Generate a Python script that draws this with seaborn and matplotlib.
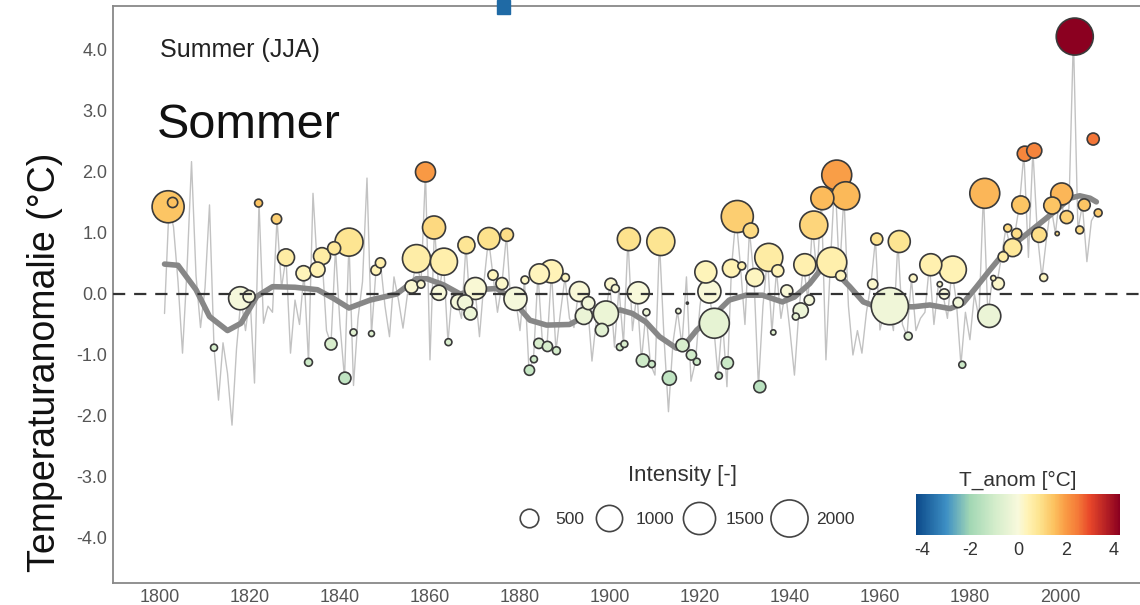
import numpy as np
import pandas as pd
import matplotlib
matplotlib.use("Agg")
import matplotlib.pyplot as plt
import seaborn as sns
from matplotlib.colors import LinearSegmentedColormap, Normalize
from matplotlib.cm import ScalarMappable
from matplotlib.lines import Line2D
from matplotlib.patches import Rectangle

# ---------------- data ----------------
line_years = list(range(1801, 2009))
line_anom = [
    -0.32, 1.43, 1.10, 0.20, -0.97, 0.40, 2.17, 0.30, -0.55, 0.10,   # 1801-1810
    1.46, -0.88, -1.74, -0.80, -1.30, -2.15, -0.90, -0.07, -0.60, -0.04,  # 1811-1820
    -1.46, 1.49, -0.48, -0.20, -0.30, 1.23, 0.10, 0.60, -0.97, -0.10,  # 1821-1830
    -0.50, 0.34, -1.12, 1.65, 0.40, 0.62, -0.60, -0.82, 0.75, -0.50,  # 1831-1840
    -1.38, 0.85, -1.50, -0.40, 0.20, 1.90, -0.65, 0.39, 0.51, -0.20,  # 1841-1850
    -0.70, 0.28, -0.10, -0.56, 0.00, 0.12, 0.58, 0.16, 2.00, -1.08,  # 1851-1860
    1.09, 0.02, 0.53, -0.79, 0.10, -0.13, -0.40, 0.80, -0.32, 0.09,  # 1861-1870
    -0.70, 0.20, 0.91, 0.31, -0.30, 0.17, 0.97, -0.20, -0.08, -0.60,  # 1871-1880
    0.23, -1.25, -1.07, 0.33, -0.81, -0.86, 0.37, -0.93, -0.30, 0.27,  # 1881-1890
    -0.40, -0.55, 0.04, -0.36, -0.15, -1.10, -0.40, -0.59, -0.32, 0.16,  # 1891-1900
    -0.87, 0.09, -0.82, 0.90, -0.60, 0.02, -1.09, -0.30, -1.15, -1.33,  # 1901-1910
    0.86, -0.70, -1.93, -0.80, -0.28, -0.84, 0.28, -1.43, -1.11, -0.20,  # 1911-1920
    0.36, 0.04, -0.48, -1.34, -0.40, -1.52, 0.42, 1.27, 0.46, -0.50,  # 1921-1930
    1.04, 0.27, -1.52, -0.20, 0.60, -0.63, 0.38, -0.40, 0.05, -0.60,  # 1931-1940
    -1.33, -0.27, 0.48, -0.10, 1.13, 0.30, 1.57, -1.08, 0.52, 1.95,  # 1941-1950
    0.30, 1.61, -0.20, -1.00, -0.60, -0.97, -0.30, 0.16, 0.90, -0.59,  # 1951-1960
    -0.30, -0.20, -0.60, 0.86, -0.50, -0.69, 0.26, -0.60, -0.40, -0.30,  # 1961-1970
    0.48, -0.50, 0.16, 0.00, -0.40, 0.40, -0.14, -1.16, -0.30, -0.75,  # 1971-1980
    0.00, -0.40, 1.65, -0.36, 0.26, 0.17, 0.61, 1.08, 0.76, 0.99,  # 1981-1990
    1.46, 2.30, 0.60, 2.35, 0.97, 0.27, 0.90, 1.45, 0.99, 1.64,  # 1991-2000
    1.26, 1.40, 4.22, 1.05, 1.46, 0.53, 1.20, 1.33,  # 2001-2008
]

smooth_years = [1801, 1804, 1808, 1811, 1815, 1818, 1821.5, 1825, 1830, 1835,
                1838.5, 1842, 1846.7, 1852.6, 1857, 1859.3, 1863, 1866.7, 1870.4,
                1874.8, 1877.8, 1882.2, 1885.9, 1891, 1895.6, 1899.3, 1902.2, 1905,
                1908, 1911, 1914.8, 1917, 1919.3, 1922.8, 1926.5, 1930.2, 1933.9,
                1938.3, 1941, 1944.4, 1947.4, 1950.4, 1953.3, 1956.3, 1959.3, 1963.7,
                1967.4, 1971.1, 1975.6, 1978.5, 1981.5, 1984.4, 1988.1, 1991.9,
                1995.6, 1999.3, 2002.2, 2004.4, 2006.7, 2008.1]
smooth_anom = [0.49, 0.47, 0.07, -0.37, -0.60, -0.48, -0.04, 0.12, 0.11, 0.07,
               -0.07, -0.23, -0.10, 0.00, 0.25, 0.25, 0.15, 0.00, 0.07,
               0.09, -0.05, -0.43, -0.51, -0.50, -0.32, -0.32, -0.26, -0.32,
               -0.46, -0.70, -0.89, -0.80, -0.59, -0.37, -0.10, -0.02, -0.02,
               -0.13, -0.05, 0.17, 0.45, 0.34, 0.12, -0.13, -0.21, -0.21,
               -0.21, -0.18, -0.24, -0.15, 0.12, 0.39, 0.72, 0.94,
               1.16, 1.38, 1.57, 1.61, 1.57, 1.51]

event_year = [1801.8, 1802.8, 1817.8, 1819.8, 1812.0, 1821.9, 1825.9, 1828.0, 1831.9, 1835.0,
              1836.0, 1838.7, 1842.0, 1833.0, 1838.0, 1841.1, 1843.0, 1847.0, 1848.0, 1849.0,
              1859.0, 1860.9, 1857.0, 1863.1, 1855.9, 1858.0, 1862.0, 1864.1, 1868.1, 1873.1,
              1877.1, 1866.3, 1870.1, 1867.8, 1869.0, 1874.0, 1876.0, 1879.0, 1881.1, 1884.3,
              1887.0, 1890.1, 1884.2, 1886.1, 1888.1, 1883.1, 1882.1, 1893.2, 1895.2, 1894.2,
              1899.1, 1898.2, 1900.2, 1901.2, 1902.2, 1903.2, 1904.2, 1906.3, 1911.3, 1908.1,
              1915.2, 1917.2, 1907.3, 1909.3, 1913.2, 1916.1, 1918.1, 1919.3, 1921.3, 1922.1,
              1923.2, 1924.2, 1926.1, 1927.0, 1929.3, 1928.3, 1931.3, 1932.2, 1933.3, 1935.3,
              1937.3, 1936.3, 1939.3, 1942.4, 1941.3, 1944.3, 1943.3, 1945.3, 1947.2, 1950.4,
              1952.4, 1949.3, 1951.3, 1958.4, 1959.3, 1964.3, 1962.2, 1966.3, 1967.4, 1971.3,
              1976.2, 1973.3, 1974.3, 1977.4, 1978.3, 1983.3, 1984.3, 1986.3, 1985.2, 1987.4,
              1988.4, 1989.5, 1990.4, 1991.3, 1992.2, 1994.3, 1995.4, 1996.4, 1998.3, 1999.4,
              2000.4, 2001.5, 2003.3, 2005.4, 2004.4, 2007.4, 2008.5]
event_anom = [1.43, 1.50, -0.07, -0.04, -0.88, 1.49, 1.23, 0.60, 0.34, 0.40,
              0.62, 0.75, 0.85, -1.12, -0.82, -1.38, -0.63, -0.65, 0.39, 0.51,
              2.00, 1.09, 0.58, 0.53, 0.12, 0.16, 0.02, -0.79, 0.80, 0.91,
              0.97, -0.13, 0.09, -0.14, -0.32, 0.31, 0.17, -0.08, 0.23, 0.33,
              0.37, 0.27, -0.81, -0.86, -0.93, -1.07, -1.25, 0.04, -0.15, -0.36,
              -0.32, -0.59, 0.16, 0.09, -0.87, -0.82, 0.90, 0.02, 0.86, -0.30,
              -0.28, -0.15, -1.09, -1.15, -1.38, -0.84, -1.00, -1.11, 0.36, 0.04,
              -0.48, -1.34, -1.13, 0.42, 0.46, 1.27, 1.04, 0.27, -1.52, 0.60,
              0.38, -0.63, 0.05, -0.27, -0.37, -0.10, 0.48, 1.13, 1.57, 1.95,
              1.61, 0.52, 0.30, 0.16, 0.90, 0.86, -0.20, -0.69, 0.26, 0.48,
              0.40, 0.16, 0.00, -0.14, -1.16, 1.65, -0.36, 0.17, 0.26, 0.61,
              1.08, 0.76, 0.99, 1.46, 2.30, 2.35, 0.97, 0.27, 1.45, 0.99,
              1.64, 1.26, 4.22, 1.46, 1.05, 2.54, 1.33]
event_intensity = [1490, 150, 770, 210, 70, 90, 150, 420, 330, 330,
                   420, 245, 1140, 90, 210, 210, 70, 50, 150, 150,
                   580, 770, 1140, 1060, 245, 90, 330, 70, 420, 700,
                   245, 330, 700, 330, 245, 150, 210, 770, 90, 580,
                   770, 90, 150, 150, 90, 70, 150, 580, 245, 420,
                   910, 245, 210, 90, 70, 70, 770, 700, 1140, 70,
                   40, 6, 245, 70, 285, 245, 150, 70, 700, 770,
                   1300, 70, 210, 470, 90, 1490, 330, 470, 210, 1140,
                   210, 40, 210, 330, 70, 150, 700, 1140, 770, 1300,
                   1140, 1300, 150, 150, 210, 700, 2100, 90, 90, 700,
                   1060, 40, 150, 150, 70, 1300, 770, 210, 40, 150,
                   90, 470, 150, 470, 330, 330, 330, 90, 420, 25,
                   700, 245, 1990, 210, 90, 210, 90]

legend_sizes = [500, 1000, 1500, 2000]
x_ticks = list(range(1800, 2001, 20))
y_ticks = [4.0, 3.0, 2.0, 1.0, 0.0, -1.0, -2.0, -3.0, -4.0]
cbar_ticks = [-4, -2, 0, 2, 4]

# ---------------- style ----------------
sns.set_style("white")
plt.rcParams["font.family"] = ["Liberation Sans", "DejaVu Sans"]
plt.rcParams["axes.unicode_minus"] = False

VMIN, VMAX = -4.25, 4.25
def stop(v):
    return (v - VMIN) / (VMAX - VMIN)

cmap = LinearSegmentedColormap.from_list(
    "tanom",
    [(stop(-4.25), "#0c4a8a"), (stop(-3.0), "#3d8fc4"), (stop(-2.0), "#a2d7b4"),
     (stop(-1.0), "#d2ecca"), (stop(0.0), "#f8f9dc"), (stop(0.4), "#fff3b5"),
     (stop(0.9), "#fde38e"), (stop(1.5), "#fcc260"), (stop(2.0), "#f99a44"),
     (stop(2.5), "#f47a38"), (stop(3.0), "#e8472a"), (stop(4.25), "#8b0020")])
norm = Normalize(VMIN, VMAX)

S_PER_UNIT = 0.357   # marker area (pt^2) per intensity unit

fig = plt.figure(figsize=(11.4, 6.05), dpi=100)
ax = fig.add_axes([113 / 1140, 1 - 583 / 605, 1 - 113 / 1140, (583 - 6) / 605])

df_line = pd.DataFrame({"year": line_years, "anom": line_anom})
df_smooth = pd.DataFrame({"year": smooth_years, "anom": smooth_anom})
df_ev = pd.DataFrame({"year": event_year, "anom": event_anom, "intensity": event_intensity})
df_ev = df_ev.sort_values("intensity", ascending=False, kind="stable")

sns.lineplot(data=df_line, x="year", y="anom", color="#c2c2c2", lw=1.0,
             estimator=None, ax=ax, zorder=1)
sns.lineplot(data=df_smooth, x="year", y="anom", color="#878787", lw=4.0,
             estimator=None, ax=ax, zorder=2, solid_capstyle="round")
sns.scatterplot(data=df_ev, x="year", y="anom", hue="anom", palette=cmap, hue_norm=norm,
                size="intensity", sizes=(0, S_PER_UNIT * 2000), size_norm=(0, 2000),
                edgecolor="#3a3a3a", linewidth=1.2, legend=False, ax=ax, zorder=3)
ax.axhline(0, color="#333333", lw=1.6, ls=(0, (5.5, 4)), zorder=4)

ax.set_xlim(1789.55, 2017.8)
ax.set_ylim(-4.738, 4.721)
ax.set_xticks(x_ticks)
ax.set_yticks(y_ticks)
ax.set_yticklabels([f"{v:.1f}" for v in y_ticks])
ax.set_xlabel("")
ax.set_ylabel("")
ax.tick_params(axis="both", direction="in", length=7, width=1.0, color="#777777",
               labelcolor="#555555", labelsize=13, pad=4)
for s in ["left", "bottom", "top"]:
    ax.spines[s].set_color("#888888")
    ax.spines[s].set_linewidth(1.3)
ax.spines["right"].set_visible(False)

fig.text(45 / 1140, 1 - 362 / 605, "Temperaturanomalie (°C)", rotation=90,
         ha="center", va="center", fontsize=27, color="#111111")
fig.text(160 / 1140, 1 - 50 / 605, "Summer (JJA)",
         ha="left", va="center", fontsize=18, color="#222222")
fig.text(157 / 1140, 1 - 125 / 605, "Sommer",
         ha="left", va="center", fontsize=35, color="#111111")

# size legend
fig.text(683 / 1140, 1 - 475 / 605, "Intensity [-]", ha="center", va="center",
         fontsize=16, color="#333333")
handles = [Line2D([], [], marker="o", ls="", markersize=np.sqrt(S_PER_UNIT * v),
                  markerfacecolor="white", markeredgecolor="#444444", markeredgewidth=1.2)
           for v in legend_sizes]
leg = fig.legend(handles, [str(v) for v in legend_sizes], ncol=4, loc="center",
                 bbox_to_anchor=(682 / 1140, 1 - 519 / 605), frameon=False,
                 fontsize=12.5, handlelength=2.2, handletextpad=0.45,
                 columnspacing=0.3, borderpad=0.2)
for t in leg.get_texts():
    t.set_color("#333333")

# colour bar
cax = fig.add_axes([916 / 1140, 1 - 535 / 605, 204 / 1140, 41 / 605])
cb = fig.colorbar(ScalarMappable(norm=norm, cmap=cmap), cax=cax, orientation="horizontal")
cb.outline.set_visible(False)
cb.set_ticks(cbar_ticks)
cax.tick_params(direction="in", length=4, width=1, color="white", top=True,
                labelsize=13, labelcolor="#333333", pad=5)
cax.set_title("T_anom [°C]", fontsize=15, color="#333333", pad=6)

fig.patches.append(Rectangle((497 / 1140, 1 - 14 / 605), 13 / 1140, 14 / 605,
                             transform=fig.transFigure, color="#1f6aa5", zorder=10))

fig.savefig("out.png", dpi=100)
